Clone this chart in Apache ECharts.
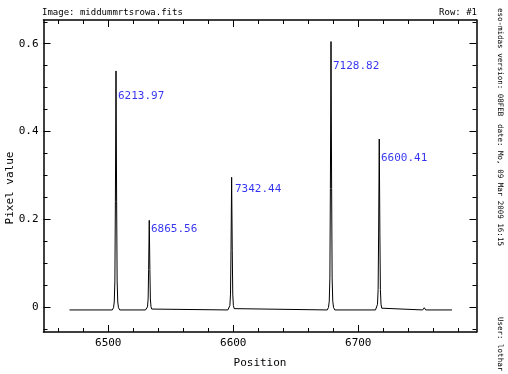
<!DOCTYPE html>
<html>
<head>
<meta charset="utf-8">
<script src="https://cdn.jsdelivr.net/npm/echarts@6/dist/echarts.min.js"></script>
<style>html,body{margin:0;padding:0;background:#fff;}#c{width:508px;height:374px;}</style>
</head>
<body>
<div id="c"></div>
<script>
// Spectrum samples (position, pixel value)
const position = [
  6469,
  6503.2, 6504.2, 6504.8, 6505.3, 6505.7, 6506.2, 6506.7, 6507.1, 6507.6, 6508.2, 6509.2,
  6529.8, 6530.8, 6531.4, 6531.9, 6532.3, 6532.8, 6533.3, 6533.7, 6534.2, 6534.8, 6535.8,
  6595.7, 6596.7, 6597.3, 6597.8, 6598.2, 6598.7, 6599.2, 6599.6, 6600.1, 6600.7, 6601.7,
  6675.2, 6676.2, 6676.8, 6677.3, 6677.7, 6678.2, 6678.7, 6679.1, 6679.6, 6680.2, 6681.2,
  6713.8, 6714.8, 6715.4, 6715.9, 6716.3, 6716.8, 6717.3, 6717.7, 6718.2, 6718.8, 6719.8,
  6751.5, 6752.8, 6754,
  6775
];
const pixelValue = [
  -0.006,
  -0.006, -0.001, 0.012, 0.060, 0.240, 0.538, 0.240, 0.060, 0.012, -0.001, -0.006,
  -0.006, -0.004, 0.001, 0.019, 0.086, 0.198, 0.086, 0.019, 0.001, -0.004, -0.006,
  -0.006, -0.003, 0.004, 0.030, 0.130, 0.296, 0.130, 0.030, 0.004, -0.003, -0.006,
  -0.006, 0.000, 0.014, 0.067, 0.270, 0.605, 0.270, 0.067, 0.014, 0.000, -0.006,
  -0.006, -0.002, 0.007, 0.041, 0.169, 0.383, 0.169, 0.041, 0.007, -0.002, -0.006,
  -0.006, -0.001, -0.006,
  -0.006
];
// Line identification labels
const lineLabels = ['6213.97', '6865.56', '7342.44', '7128.82', '6600.41'];
const labelPosition = [6507.8, 6534.2, 6601.4, 6679.8, 6718.2];
const labelValue = [0.481, 0.178, 0.268, 0.548, 0.339];
// Axis ticks
const xMajorTicks = [6500, 6600, 6700];
const xMinorTicks = [6460, 6480, 6520, 6540, 6560, 6580, 6620, 6640, 6660, 6680, 6720, 6740, 6760, 6780];
const yMajorTicks = [0, 0.2, 0.4, 0.6];
const yMinorTicks = [-0.05, 0.05, 0.1, 0.15, 0.25, 0.3, 0.35, 0.45, 0.5, 0.55, 0.65];
const xRange = [6448.2, 6794.6];
const yRange = [-0.0562, 0.654];

const FONT = 'DejaVu Sans Mono';
const lineStyle = {color: '#000', width: 1.5};

function xAxisDef(pos, ticks, len, showLine, showLabels) {
  return {
    type: 'value', position: pos, min: xRange[0], max: xRange[1], gridIndex: 0,
    splitLine: {show: false},
    axisLine: {show: showLine, onZero: false, lineStyle: lineStyle},
    axisTick: {show: true, inside: true, length: len, customValues: ticks, lineStyle: {color: '#000', width: 1}},
    axisLabel: showLabels ? {show: true, customValues: xMajorTicks, color: '#000', fontFamily: FONT, fontSize: 11, margin: 6,
      formatter: v => String(Math.round(v))} : {show: false},
    name: showLabels ? 'Position' : '',
    nameLocation: 'middle', nameGap: 26,
    nameTextStyle: {color: '#000', fontFamily: FONT, fontSize: 11}
  };
}
function yAxisDef(pos, ticks, len, showLine, showLabels) {
  return {
    type: 'value', position: pos, min: yRange[0], max: yRange[1], gridIndex: 0,
    splitLine: {show: false},
    axisLine: {show: showLine, onZero: false, lineStyle: lineStyle},
    axisTick: {show: true, inside: true, length: len, customValues: ticks, lineStyle: {color: '#000', width: 1}},
    axisLabel: showLabels ? {show: true, customValues: yMajorTicks, color: '#000', fontFamily: FONT, fontSize: 11, margin: 5,
      formatter: v => (Math.abs(v) < 1e-9 ? '0' : v.toFixed(1))} : {show: false}
  };
}

const chart = echarts.init(document.getElementById('c'), null, {renderer: 'canvas'});
chart.setOption({
  animation: false,
  backgroundColor: '#fff',
  grid: {left: 43.5, right: 31.5, top: 20, bottom: 38, containLabel: false},
  xAxis: [
    xAxisDef('bottom', xMajorTicks, 7, true, true),
    xAxisDef('bottom', xMinorTicks, 4, false, false),
    xAxisDef('top', xMajorTicks, 7, true, false),
    xAxisDef('top', xMinorTicks, 4, false, false)
  ],
  yAxis: [
    yAxisDef('left', yMajorTicks, 7, true, true),
    yAxisDef('left', yMinorTicks, 4, false, false),
    yAxisDef('right', yMajorTicks, 7, true, false),
    yAxisDef('right', yMinorTicks, 4, false, false)
  ],
  title: [
    {text: 'Image: middummrtsrowa.fits', left: 42, top: 8, padding: 0,
     textStyle: {fontFamily: FONT, fontSize: 9, fontWeight: 'normal', color: '#000'}},
    {text: 'Row: #1', right: 31, top: 8, padding: 0,
     textStyle: {fontFamily: FONT, fontSize: 9, fontWeight: 'normal', color: '#000'}}
  ],
  graphic: [
    {type: 'text', x: 10, y: 188, rotation: Math.PI / 2,
     style: {text: 'Pixel value', fontFamily: FONT, fontSize: 11, fill: '#000', align: 'center', verticalAlign: 'middle'}},
    {type: 'text', x: 500, y: 8, rotation: -Math.PI / 2,
     style: {text: 'eso-midas version: 08FEB', fontFamily: FONT, fontSize: 7.5, fill: '#000', align: 'left', verticalAlign: 'middle'}},
    {type: 'text', x: 500, y: 124, rotation: -Math.PI / 2,
     style: {text: 'date: Mo, 09 Mar 2009 16:15', fontFamily: FONT, fontSize: 7.5, fill: '#000', align: 'left', verticalAlign: 'middle'}},
    {type: 'text', x: 500, y: 317, rotation: -Math.PI / 2,
     style: {text: 'User: lothar', fontFamily: FONT, fontSize: 7.5, fill: '#000', align: 'left', verticalAlign: 'middle'}}
  ],
  series: [
    {
      type: 'line', xAxisIndex: 0, yAxisIndex: 0,
      data: position.map((p, i) => [p, pixelValue[i]]),
      showSymbol: false, symbol: 'none', smooth: false,
      lineStyle: {color: '#000', width: 1}, silent: true
    },
    {
      type: 'scatter', xAxisIndex: 0, yAxisIndex: 0,
      data: labelPosition.map((p, i) => ({value: [p, labelValue[i]], name: lineLabels[i]})),
      symbolSize: 0, silent: true,
      label: {show: true, position: 'right', distance: 0, formatter: d => d.name,
        color: '#0000ee', fontFamily: FONT, fontSize: 11}
    }
  ]
});
</script>
</body>
</html>
